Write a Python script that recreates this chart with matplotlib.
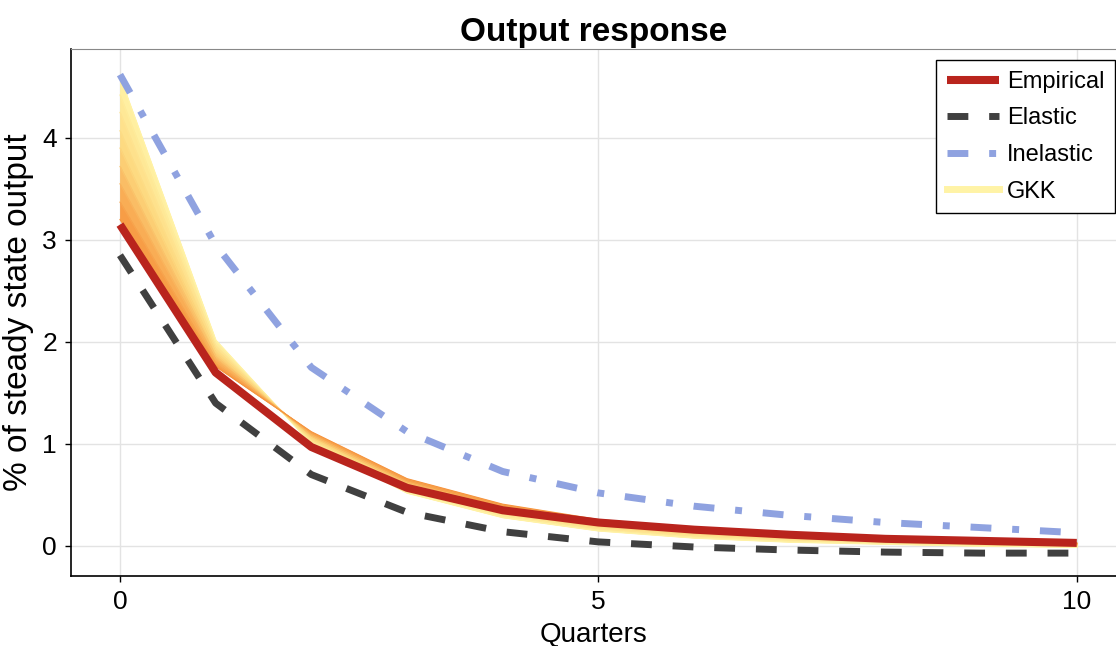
import numpy as np
import matplotlib.pyplot as plt
from matplotlib.colors import LinearSegmentedColormap

plt.rcParams['font.family'] = ['Liberation Sans', 'DejaVu Sans']

quarters = np.arange(0, 11)

empirical = [3.15, 1.70, 0.97, 0.57, 0.35, 0.23, 0.16, 0.11, 0.07, 0.05, 0.03]
elastic = [2.85, 1.40, 0.70, 0.33, 0.14, 0.04, -0.01, -0.04, -0.06, -0.07, -0.07]
inelastic = [4.62, 2.95, 1.75, 1.12, 0.73, 0.52, 0.39, 0.30, 0.23, 0.18, 0.13]

# GKK fan, lightest (top at t=0) to darkest
gkk = [
    [4.60, 2.02, 1.00, 0.52, 0.28, 0.15, 0.08, 0.04, 0.02, 0.00, -0.01],
    [4.42, 1.99, 1.02, 0.54, 0.30, 0.16, 0.09, 0.05, 0.03, 0.01, 0.00],
    [4.25, 1.96, 1.03, 0.56, 0.31, 0.17, 0.10, 0.06, 0.03, 0.01, 0.00],
    [4.07, 1.93, 1.05, 0.58, 0.33, 0.19, 0.12, 0.07, 0.04, 0.02, 0.01],
    [3.90, 1.90, 1.06, 0.59, 0.34, 0.20, 0.13, 0.08, 0.05, 0.03, 0.01],
    [3.72, 1.86, 1.08, 0.61, 0.36, 0.22, 0.14, 0.09, 0.06, 0.03, 0.02],
    [3.55, 1.83, 1.09, 0.63, 0.37, 0.23, 0.15, 0.10, 0.06, 0.04, 0.02],
    [3.37, 1.79, 1.11, 0.64, 0.39, 0.25, 0.16, 0.11, 0.07, 0.04, 0.03],
    [3.20, 1.76, 1.12, 0.66, 0.41, 0.26, 0.18, 0.12, 0.08, 0.05, 0.03],
]

fan_cmap = LinearSegmentedColormap.from_list("fan", ["#fff3a6", "#fdd67c", "#f6953f"])

fig = plt.figure(figsize=(11.16, 6.46), dpi=100)
ax = fig.add_axes([0.0636, 0.1084, 0.9364, 0.8156])

ax.grid(True, color="#e3e3e3", lw=1)
ax.set_axisbelow(True)

# GKK fan: fill between neighbouring series, then thin lines on the edges
n = len(gkk)
for i in range(n - 1):
    c = fan_cmap((i + 0.5) / (n - 1))
    ax.fill_between(quarters, gkk[i], gkk[i + 1], color=c, lw=0.6,
                    edgecolor=c, zorder=2)
for i in range(n):
    c = fan_cmap(i / (n - 1))
    ax.plot(quarters, gkk[i], color=c, lw=0.8, zorder=2,
            label="GKK" if i == 0 else None)

ax.plot(quarters, empirical, color="#b9241d", lw=5.8, zorder=4,
        solid_capstyle="butt", label="Empirical")
ax.plot(quarters, elastic, color="#404040", lw=5, zorder=3,
        dashes=(3, 3), label="Elastic")
ax.plot(quarters, inelastic, color="#8fa2e0", lw=5, zorder=3,
        dashes=(3, 3, 1, 3), label="Inelastic")

ax.set_xlim(-0.512, 10.41)
ax.set_ylim(-0.294, 4.87)
ax.set_xticks([0, 5, 10])
ax.set_yticks([0, 1, 2, 3, 4])
ax.tick_params(labelsize=19, length=4, width=1, direction="out", pad=6)

ax.spines["right"].set_visible(False)
ax.spines["top"].set_color("#888888")
ax.spines["left"].set_linewidth(1.2)
ax.spines["bottom"].set_linewidth(1.2)

ax.set_title("Output response", fontsize=24, fontweight="bold", pad=6)
ax.set_xlabel("Quarters", fontsize=20, labelpad=6)
ax.set_ylabel("% of steady state output", fontsize=24, labelpad=6)

# legend in the order Empirical, Elastic, Inelastic, GKK
h, l = ax.get_legend_handles_labels()
order = [l.index(k) for k in ["Empirical", "Elastic", "Inelastic", "GKK"]]
leg = ax.legend([h[i] for i in order], [l[i] for i in order],
                loc="upper right", bbox_to_anchor=(0.999, 0.979),
                borderaxespad=0, fontsize=17, fancybox=False,
                edgecolor="black", framealpha=1, handlelength=2.2,
                labelspacing=0.62, handletextpad=0.35, borderpad=0.45)
leg.get_frame().set_linewidth(1)
leg.get_lines()[3].set_linewidth(5)

fig.savefig("out.png", dpi=100)
